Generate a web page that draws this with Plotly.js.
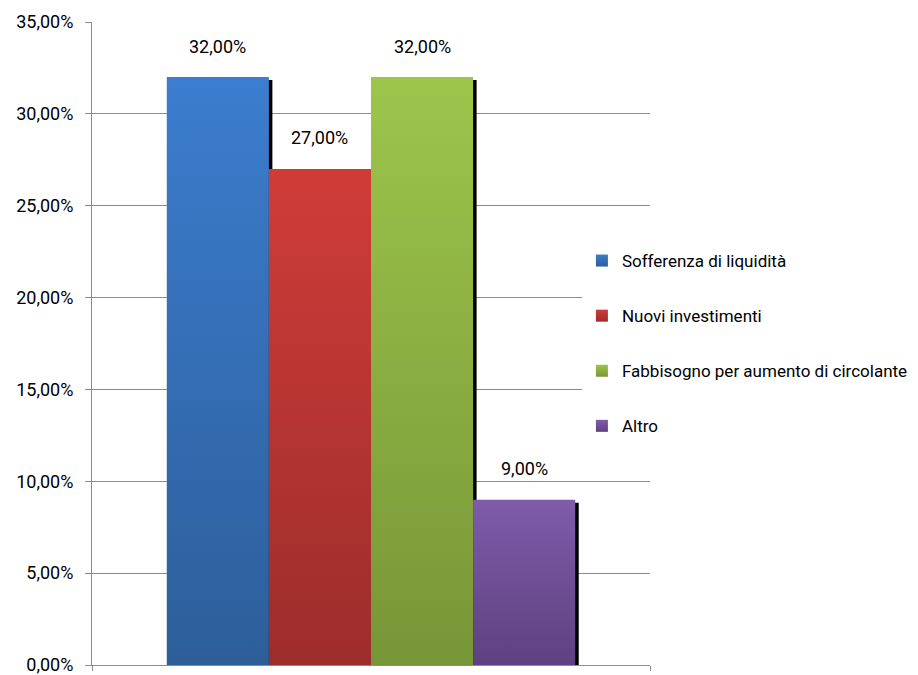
<!DOCTYPE html>
<html>
<head>
<meta charset="utf-8">
<script src="https://cdn.plot.ly/plotly-3.0.1.min.js"></script>
<style>html,body{margin:0;padding:0;background:#fff;}#chart{width:918px;height:675px;}</style>
</head>
<body>
<div id="chart"></div>
<script>
// ---- data ----
var seriesNames = ["Sofferenza di liquidità", "Nuovi investimenti", "Fabbisogno per aumento di circolante", "Altro"];
var seriesValues = [0.32, 0.27, 0.32, 0.09];
var category = ["Motivo"];
var valueLabels = ["32,00%", "27,00%", "32,00%", "9,00%"];

// ---- style ----
var topColors = ["#3B7DCE", "#CF3C38", "#9DC54B", "#7F5BA9"];
var bottomColors = ["#2D5E9A", "#9C2D2B", "#779637", "#5E417F"];
var midColors = ["#3470B6", "#B83532", "#8BAE42", "#6F4E95"];
var FONT = "Roboto, 'Liberation Sans', sans-serif";

var bargap = 0.268;
var plotW = 918 - 92 - 268;
var plotH = 675 - 22 - 10;
var yMax = 0.35;
var shX = 3.5 / plotW;          // shadow shift right (in axis units)
var shY = 3 * yMax / plotH;     // shadow shift down (in axis units)

var traces = [];
// shadow traces (base subplot, drawn first)
seriesValues.forEach(function (v, i) {
  traces.push({
    type: "bar", x: category, y: [v], name: seriesNames[i],
    xaxis: "x", yaxis: "y", showlegend: false, hoverinfo: "skip",
    marker: {color: "#000000", line: {width: 0}}
  });
});
// main bars (overlay subplot)
seriesValues.forEach(function (v, i) {
  traces.push({
    type: "bar", x: category, y: [v], name: seriesNames[i],
    xaxis: "x2", yaxis: "y2", legendgroup: "g" + i,
    marker: {color: midColors[i], line: {width: 0}}
  });
});

// value labels above bars
var groupW = 1 - bargap, barW = groupW / seriesValues.length;
var annotations = seriesValues.map(function (v, i) {
  return {
    xref: "x2", yref: "y2", x: -groupW / 2 + (i + 0.5) * barW, y: v,
    text: valueLabels[i], showarrow: false, yanchor: "middle", yshift: 31,
    font: {family: FONT, size: 18, color: "#000"}
  };
});

var layout = {
  width: 918, height: 675,
  margin: {l: 92, r: 268, t: 22, b: 10, autoexpand: false},
  paper_bgcolor: "#fff", plot_bgcolor: "rgba(0,0,0,0)",
  separators: ",.",
  barmode: "group", bargap: bargap, bargroupgap: 0,
  font: {family: FONT, color: "#000"},
  showlegend: true,
  legend: {
    x: 0.878, xanchor: "left", y: 0.5, yanchor: "middle",
    bgcolor: "#ffffff", borderwidth: 0,
    font: {family: FONT, size: 17, color: "#000"},
    traceorder: "grouped", tracegroupgap: 30
  },
  xaxis: {type: "category", range: [-0.5 - shX, 0.5 - shX], visible: false, fixedrange: true},
  yaxis: {range: [shY, yMax + shY], visible: false, fixedrange: true},
  xaxis2: {
    type: "category", overlaying: "x", anchor: "y2", range: [-0.5, 0.5],
    showline: true, linecolor: "#8c8c8c", linewidth: 1,
    ticks: "outside", tickson: "boundaries", ticklen: 5, tickcolor: "#8c8c8c",
    showticklabels: false, showgrid: false, zeroline: false
  },
  yaxis2: {
    overlaying: "y", anchor: "x2", side: "left", range: [0, yMax], dtick: 0.05,
    tickformat: ".2%", showline: true, linecolor: "#8c8c8c", linewidth: 1,
    ticks: "outside", ticklen: 6, tickcolor: "#8c8c8c", ticklabelstandoff: 8,
    ticklabeloverflow: "allow",
    showgrid: true, gridcolor: "#8c8c8c", gridwidth: 1, zeroline: false,
    tickfont: {family: FONT, size: 18, color: "#000"}, automargin: false
  },
  annotations: annotations
};

Plotly.newPlot("chart", traces, layout, {displayModeBar: false, staticPlot: true}).then(function (gd) {
  // vertical gradient fills for the bars and legend swatches
  var svg = gd.querySelector(".main-svg");
  var defs = svg.querySelector("defs");
  var ns = "http://www.w3.org/2000/svg";
  topColors.forEach(function (c, i) {
    var g = document.createElementNS(ns, "linearGradient");
    g.setAttribute("id", "barGrad" + i);
    g.setAttribute("x1", "0"); g.setAttribute("y1", "0");
    g.setAttribute("x2", "0"); g.setAttribute("y2", "1");
    var s1 = document.createElementNS(ns, "stop");
    s1.setAttribute("offset", "0"); s1.setAttribute("stop-color", c);
    var s2 = document.createElementNS(ns, "stop");
    s2.setAttribute("offset", "1"); s2.setAttribute("stop-color", bottomColors[i]);
    g.appendChild(s1); g.appendChild(s2); defs.appendChild(g);
  });
  gd.querySelectorAll(".barlayer .trace").forEach(function (t) {
    var d = t.__data__;
    var cd = d && d[0] && d[0].trace;
    if (cd && cd.xaxis === "x2") {
      var idx = seriesNames.indexOf(cd.name);
      t.querySelectorAll("path").forEach(function (p) { p.style.fill = "url(#barGrad" + idx + ")"; });
    }
  });
  gd.querySelectorAll(".legend .traces").forEach(function (t) {
    var d = t.__data__;
    var cd = d && d[0] && d[0].trace;
    if (cd) {
      var idx = seriesNames.indexOf(cd.name);
      t.querySelectorAll(".legendpoints path").forEach(function (p) { p.style.fill = "url(#barGrad" + idx + ")"; });
    }
  });
});
</script>
</body>
</html>
